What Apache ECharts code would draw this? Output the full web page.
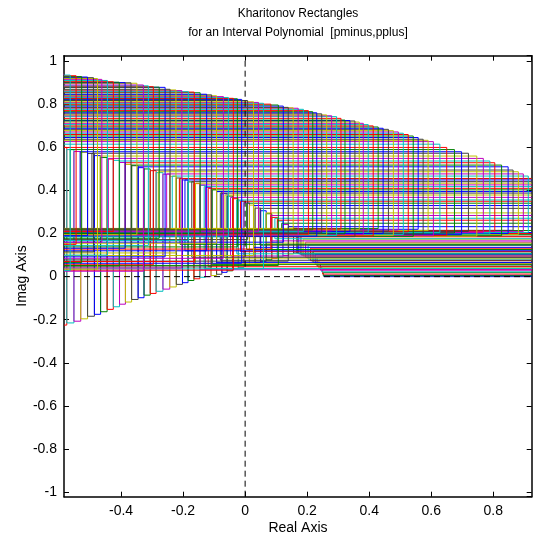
<!DOCTYPE html>
<html>
<head>
<meta charset="utf-8">
<title>Kharitonov Rectangles</title>
<script src="https://cdn.jsdelivr.net/npm/echarts@6/dist/echarts.min.js"></script>
<style>
  html, body { margin: 0; padding: 0; background: #fff; }
  #chart { width: 534px; height: 541px; }
</style>
</head>
<body>
<div id="chart"></div>
<script>
// axis limits and ticks
var X_MIN = -0.584, X_MAX = 0.924;
var Y_MIN = -1.022, Y_MAX = 1.026;
var OFF = 1.5; // edges that lie outside the view

// matlab colour order b g r c m y k
var lineColors = ["#0000ff", "#008000", "#ff0000", "#00bfbf", "#bf00bf", "#bfbf00", "#404040"];

// rectangles as [left, right, bottom, top] (real / imag parts)
// first frequencies: the hump right of the origin
var humpRects = [
  [0.254, OFF, 0.000, 0.006], [0.252, OFF, 0.004, 0.020], [0.250, OFF, 0.012, 0.034],
  [0.247, OFF, 0.022, 0.048], [0.243, OFF, 0.030, 0.062], [0.238, OFF, 0.040, 0.076],
  [0.232, OFF, 0.049, 0.090], [0.226, OFF, 0.058, 0.104], [0.219, OFF, 0.066, 0.118],
  [0.211, OFF, 0.074, 0.132], [0.203, OFF, 0.082, 0.146], [0.195, OFF, 0.090, 0.160],
  [0.187, OFF, 0.096, 0.174], [0.180, OFF, 0.101, 0.188], [0.173, OFF, 0.106, 0.202],
  [0.167, OFF, 0.109, 0.214]
];

// tall narrow rectangles of the lower left part
var narrowRects = [
  [-0.600, -0.575, -0.225, 0.600], [-0.575, -0.552, -0.215, 0.590], [-0.552, -0.530, -0.207, 0.581],
  [-0.530, -0.508, -0.196, 0.577], [-0.508, -0.486, -0.184, 0.572], [-0.486, -0.466, -0.175, 0.562],
  [-0.466, -0.445, -0.163, 0.553], [-0.445, -0.425, -0.152, 0.546], [-0.425, -0.405, -0.140, 0.540],
  [-0.405, -0.386, -0.128, 0.530], [-0.386, -0.366, -0.118, 0.521], [-0.366, -0.345, -0.106, 0.515],
  [-0.345, -0.326, -0.098, 0.506], [-0.326, -0.306, -0.086, 0.500], [-0.306, -0.287, -0.078, 0.492],
  [-0.287, -0.265, -0.068, 0.483], [-0.265, -0.243, -0.058, 0.476], [-0.243, -0.222, -0.048, 0.466],
  [-0.222, -0.202, -0.036, 0.458], [-0.202, -0.184, -0.028, 0.449], [-0.184, -0.165, -0.018, 0.440],
  [-0.165, -0.146, -0.010, 0.432], [-0.146, -0.128, -0.003, 0.424], [-0.128, -0.110, 0.000, 0.414],
  [-0.110, -0.092, 0.005, 0.404], [-0.092, -0.075, 0.011, 0.395], [-0.075, -0.058, 0.020, 0.385],
  [-0.058, -0.040, 0.027, 0.374], [-0.040, -0.022, 0.037, 0.362], [-0.022, -0.004, 0.043, 0.352],
  [-0.004, 0.014, 0.051, 0.343], [0.014, 0.032, 0.057, 0.332], [0.032, 0.050, 0.064, 0.318],
  [0.050, 0.068, 0.071, 0.306], [0.068, 0.086, 0.078, 0.292], [0.086, 0.104, 0.085, 0.275],
  [0.104, 0.122, 0.091, 0.258], [0.122, 0.140, 0.098, 0.242], [0.140, 0.156, 0.105, 0.232],
  [0.156, 0.168, 0.110, 0.225]
];

// wide rectangles, right edge still outside the view
var wideLowRects = [
  [0.139, OFF, 0.205, 0.232], [0.118, OFF, 0.195, 0.248], [0.105, OFF, 0.185, 0.262],
  [0.096, OFF, 0.176, 0.271], [0.082, OFF, 0.166, 0.284], [0.068, OFF, 0.156, 0.296],
  [0.048, OFF, 0.146, 0.317], [0.027, OFF, 0.136, 0.330], [0.005, OFF, 0.126, 0.341],
  [-0.015, OFF, 0.116, 0.350], [-0.027, OFF, 0.106, 0.356], [-0.047, OFF, 0.096, 0.368],
  [-0.065, OFF, 0.086, 0.379], [-0.080, OFF, 0.076, 0.388], [-0.092, OFF, 0.066, 0.395],
  [-0.106, OFF, 0.056, 0.403], [-0.119, OFF, 0.046, 0.410], [-0.132, OFF, 0.038, 0.418],
  [-0.145, OFF, 0.032, 0.426], [-0.160, OFF, 0.060, 0.434], [-0.172, OFF, 0.090, 0.441],
  [-0.194, OFF, 0.120, 0.449], [-0.210, OFF, 0.150, 0.456]
];

// wide rectangles with both sides in view
var wideMidRects = [
  [-0.212, 0.930, 0.200, 0.455], [-0.235, 0.913, 0.205, 0.467], [-0.253, 0.897, 0.210, 0.477],
  [-0.280, 0.881, 0.195, 0.487], [-0.296, 0.864, 0.215, 0.495], [-0.345, 0.848, 0.200, 0.510],
  [-0.366, 0.827, 0.190, 0.518], [-0.387, 0.805, 0.212, 0.529], [-0.405, 0.789, 0.198, 0.537],
  [-0.441, 0.768, 0.205, 0.549], [-0.468, 0.747, 0.188, 0.560], [-0.494, 0.720, 0.210, 0.573],
  [-0.532, 0.698, 0.195, 0.580], [-0.564, 0.675, 0.203, 0.590], [-0.586, 0.650, 0.192, 0.600]
];

// wide rectangles, left edge outside the view
var wideHighRects = [
  [-OFF, 0.628, 0.205, 0.615], [-OFF, 0.607, 0.190, 0.627], [-OFF, 0.590, 0.214, 0.633],
  [-OFF, 0.574, 0.198, 0.638], [-OFF, 0.558, 0.220, 0.646], [-OFF, 0.542, 0.187, 0.653],
  [-OFF, 0.526, 0.208, 0.660], [-OFF, 0.510, 0.195, 0.666], [-OFF, 0.494, 0.216, 0.672],
  [-OFF, 0.478, 0.192, 0.678], [-OFF, 0.462, 0.211, 0.684], [-OFF, 0.445, 0.200, 0.689],
  [-OFF, 0.429, 0.223, 0.695], [-OFF, 0.413, 0.189, 0.700], [-OFF, 0.397, 0.206, 0.706],
  [-OFF, 0.381, 0.196, 0.712], [-OFF, 0.368, 0.218, 0.718], [-OFF, 0.354, 0.186, 0.723],
  [-OFF, 0.338, 0.209, 0.725], [-OFF, 0.322, 0.199, 0.727], [-OFF, 0.309, 0.221, 0.735],
  [-OFF, 0.295, 0.191, 0.743], [-OFF, 0.279, 0.213, 0.747], [-OFF, 0.263, 0.194, 0.751],
  [-OFF, 0.247, 0.203, 0.756], [-OFF, 0.231, 0.188, 0.761], [-OFF, 0.218, 0.217, 0.766],
  [-OFF, 0.204, 0.197, 0.771], [-OFF, 0.188, 0.210, 0.777], [-OFF, 0.171, 0.193, 0.782],
  [-OFF, 0.155, 0.224, 0.784], [-OFF, 0.139, 0.072, 0.786], [-OFF, 0.123, 0.160, 0.792],
  [-OFF, 0.107, 0.052, 0.797], [-OFF, 0.083, 0.128, 0.801], [-OFF, 0.059, 0.036, 0.805],
  [-OFF, 0.043, 0.210, 0.809], [-OFF, 0.027, 0.098, 0.812], [-OFF, 0.008, 0.172, 0.818],
  [-OFF, -0.011, 0.062, 0.823], [-OFF, -0.025, 0.138, 0.826], [-OFF, -0.038, 0.030, 0.828],
  [-OFF, -0.054, 0.185, 0.832], [-OFF, -0.070, 0.085, 0.836], [-OFF, -0.092, 0.155, 0.840],
  [-OFF, -0.108, 0.045, 0.844], [-OFF, -0.124, 0.120, 0.847], [-OFF, -0.145, 0.200, 0.854],
  [-OFF, -0.164, 0.070, 0.857], [-OFF, -0.183, 0.168, 0.859], [-OFF, -0.204, 0.040, 0.864],
  [-OFF, -0.223, 0.110, 0.867], [-OFF, -0.242, 0.222, 0.870], [-OFF, -0.258, 0.092, 0.879],
  [-OFF, -0.277, 0.178, 0.880], [-OFF, -0.296, 0.055, 0.882], [-OFF, -0.312, 0.145, 0.886],
  [-OFF, -0.328, 0.025, 0.890], [-OFF, -0.349, 0.195, 0.898], [-OFF, -0.368, 0.078, 0.900],
  [-OFF, -0.387, 0.132, 0.901], [-OFF, -0.406, 0.050, 0.903], [-OFF, -0.425, 0.210, 0.905],
  [-OFF, -0.444, 0.100, 0.911], [-OFF, -0.462, 0.160, 0.916], [-OFF, -0.476, 0.035, 0.920],
  [-OFF, -0.489, 0.115, 0.924], [-OFF, -0.508, 0.190, 0.927], [-OFF, -0.527, 0.065, 0.929],
  [-OFF, -0.545, 0.150, 0.933], [-OFF, -0.564, 0.028, 0.936], [-OFF, -0.586, 0.105, 0.940]
];

var FONT = "Liberation Sans, Arial, Helvetica, sans-serif";

// all rectangles in drawing order, with their colour index
var rectData = [];
[humpRects, narrowRects, wideLowRects, wideMidRects, wideHighRects].forEach(function (list) {
  list.forEach(function (r) {
    rectData.push(r.concat([rectData.length % lineColors.length]));
  });
});

// draws the visible edges of one rectangle
function renderRect(params, api) {
  var L = api.value(0), R = api.value(1), B = api.value(2), T = api.value(3);
  var color = lineColors[api.value(4)];
  var x1 = Math.max(L, X_MIN), x2 = Math.min(R, X_MAX);
  var y1 = Math.max(B, Y_MIN), y2 = Math.min(T, Y_MAX);
  var segs = [];
  if (B >= Y_MIN && B <= Y_MAX) segs.push([[x1, B], [x2, B]]);
  if (T >= Y_MIN && T <= Y_MAX) segs.push([[x1, T], [x2, T]]);
  if (L >= X_MIN && L <= X_MAX) segs.push([[L, y1], [L, y2]]);
  if (R >= X_MIN && R <= X_MAX) segs.push([[R, y1], [R, y2]]);
  return {
    type: "group",
    children: segs.map(function (s) {
      var p1 = api.coord(s[0]), p2 = api.coord(s[1]);
      return {
        type: "line",
        silent: true,
        shape: { x1: p1[0], y1: p1[1], x2: p2[0], y2: p2[1] },
        style: { stroke: color, lineWidth: 1 }
      };
    })
  };
}

function valueAxis(pos, min, max, showLabels) {
  return {
    type: "value",
    position: pos,
    min: min,
    max: max,
    minInterval: 0.2,
    maxInterval: 0.2,
    axisLine: { show: true, onZero: false, lineStyle: { color: "#000", width: 1.5 } },
    axisTick: { show: true, inside: true, length: 5, lineStyle: { color: "#000", width: 1 } },
    splitLine: { show: false },
    axisLabel: {
      show: showLabels,
      showMinLabel: false,
      showMaxLabel: false,
      color: "#000",
      fontFamily: FONT,
      fontSize: 14,
      margin: 7
    }
  };
}

function label(text, x, y, size, rot) {
  return {
    type: "text", x: x, y: y, rotation: rot || 0,
    style: {
      text: text, font: size + "px " + FONT, fill: "#000",
      textAlign: "center", textVerticalAlign: "middle", align: "center", verticalAlign: "middle"
    }
  };
}

var chart = echarts.init(document.getElementById("chart"), null, { renderer: "canvas" });
chart.setOption({
  animation: false,
  backgroundColor: "#fff",
  grid: { left: 64, right: 2.3, top: 55.7, bottom: 44.3, containLabel: false },
  xAxis: [valueAxis("bottom", X_MIN, X_MAX, true), valueAxis("top", X_MIN, X_MAX, false)],
  yAxis: [valueAxis("left", Y_MIN, Y_MAX, true), valueAxis("right", Y_MIN, Y_MAX, false)],
  graphic: [
    label("Kharitonov Rectangles", 298, 14, 12),
    label("for an Interval Polynomial  [pminus,pplus]", 298, 33, 12),
    label("Real Axis", 298, 528, 14),
    label("Imag Axis", 22, 276, 14, Math.PI / 2)
  ],
  series: [
    {
      type: "custom",
      renderItem: renderRect,
      data: rectData,
      encode: { x: [0, 1], y: [2, 3] },
      silent: true,
      z: 2
    },
    {
      type: "line",
      data: [[0, Y_MIN], [0, Y_MAX]],
      symbol: "none",
      silent: true,
      lineStyle: { color: "#000", width: 1, type: [6, 4] },
      z: 5
    },
    {
      type: "line",
      data: [[X_MIN, 0], [X_MAX, 0]],
      symbol: "none",
      silent: true,
      lineStyle: { color: "#000", width: 1, type: [6, 4] },
      z: 5
    }
  ]
});
</script>
</body>
</html>
